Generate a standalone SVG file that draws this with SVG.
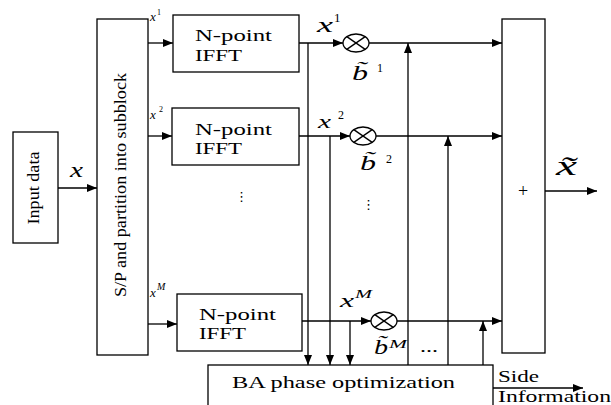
<svg xmlns="http://www.w3.org/2000/svg" width="611" height="405" viewBox="0 0 611 405">
<defs>
<marker id="arr" markerUnits="userSpaceOnUse" markerWidth="11" markerHeight="9" refX="10" refY="4" orient="auto">
<path d="M0,0 L10,4 L0,8 z" fill="#000"/>
</marker>
<style>
.box{fill:#fff;stroke:#000;stroke-width:1.3}
.ln{fill:none;stroke:#000;stroke-width:1.3}
.ar{fill:none;stroke:#000;stroke-width:1.3;marker-end:url(#arr)}
.t{font-family:"Liberation Serif","Times New Roman",serif;font-size:16px;fill:#000}
.m{font-family:"Liberation Serif","Times New Roman",serif;font-style:italic;fill:#000}
.s{font-family:"Liberation Serif","Times New Roman",serif;fill:#000}
.dots{font-family:"DejaVu Sans",sans-serif;font-size:13px;fill:#000}
</style>
</defs>
<rect width="611" height="405" fill="#fff"/>

<g id="connectors">
<line class="ar" x1="58" y1="188" x2="97" y2="188"/>
<line class="ar" x1="148" y1="43" x2="173" y2="43"/>
<line class="ar" x1="148" y1="136" x2="172" y2="136"/>
<line class="ar" x1="148" y1="324" x2="177" y2="324"/>
<line class="ar" x1="299" y1="43" x2="343" y2="43"/>
<line class="ar" x1="369" y1="43" x2="502" y2="43"/>
<line class="ar" x1="299" y1="136" x2="350" y2="136"/>
<line class="ar" x1="376" y1="136" x2="502" y2="136"/>
<line class="ar" x1="302" y1="321" x2="371" y2="321"/>
<line class="ar" x1="397" y1="321" x2="502" y2="321"/>
<line class="ar" x1="308" y1="43" x2="308" y2="365"/>
<line class="ar" x1="330" y1="136" x2="330" y2="365"/>
<line class="ar" x1="350" y1="321" x2="350" y2="365"/>
<line class="ar" x1="408" y1="365" x2="408" y2="43"/>
<line class="ar" x1="448" y1="365" x2="448" y2="136"/>
<line class="ar" x1="483" y1="365" x2="483" y2="321"/>
<line class="ar" x1="545" y1="191" x2="597" y2="191"/>
<line class="ar" x1="493" y1="388" x2="583" y2="388"/>
</g>

<g id="input">
<rect class="box" x="13" y="132" width="45" height="111"/>
<text class="t" transform="translate(39,188) rotate(-90)" text-anchor="middle" textLength="73" lengthAdjust="spacingAndGlyphs">Input data</text>
</g>
<text class="m" x="70" y="177" font-size="22" textLength="13" lengthAdjust="spacingAndGlyphs">x</text>

<g id="sp">
<rect class="box" x="97" y="19" width="51" height="336"/>
<text class="t" transform="translate(126,185) rotate(-90)" text-anchor="middle" textLength="224" lengthAdjust="spacingAndGlyphs">S/P and partition into subblock</text>
</g>
<g id="sublabels">
<text class="m" x="150" y="21" font-size="13">x</text><text class="s" x="157" y="15" font-size="8">1</text>
<text class="m" x="150" y="119" font-size="13">x</text><text class="s" x="159" y="112" font-size="8">2</text>
<text class="m" x="150" y="297" font-size="13">x</text><text class="m" x="157" y="290" font-size="10">M</text>
</g>

<g id="ifft1">
<rect class="box" x="173" y="15" width="126" height="57"/>
<text class="t" x="195" y="41" textLength="77" lengthAdjust="spacingAndGlyphs">N-point</text>
<text class="t" x="195" y="61" textLength="47" lengthAdjust="spacingAndGlyphs">IFFT</text>
</g>
<g id="ifft2">
<rect class="box" x="172" y="108" width="127" height="57"/>
<text class="t" x="195" y="135" textLength="77" lengthAdjust="spacingAndGlyphs">N-point</text>
<text class="t" x="195" y="154" textLength="47" lengthAdjust="spacingAndGlyphs">IFFT</text>
</g>
<text class="dots" x="235" y="201">⋮</text>
<g id="ifft3">
<rect class="box" x="177" y="294" width="125" height="57"/>
<text class="t" x="199" y="320" textLength="77" lengthAdjust="spacingAndGlyphs">N-point</text>
<text class="t" x="199" y="339" textLength="47" lengthAdjust="spacingAndGlyphs">IFFT</text>
</g>

<g id="mult1">
<ellipse class="ln" cx="356" cy="43" rx="13" ry="9"/>
<line class="ln" x1="346.8" y1="36.6" x2="365.2" y2="49.4"/>
<line class="ln" x1="346.8" y1="49.4" x2="365.2" y2="36.6"/>
</g>
<g id="mult2">
<ellipse class="ln" cx="363" cy="136" rx="13" ry="9"/>
<line class="ln" x1="353.8" y1="129.6" x2="372.2" y2="142.4"/>
<line class="ln" x1="353.8" y1="142.4" x2="372.2" y2="129.6"/>
</g>
<g id="multM">
<ellipse class="ln" cx="384" cy="321" rx="13" ry="9"/>
<line class="ln" x1="374.8" y1="314.6" x2="393.2" y2="327.4"/>
<line class="ln" x1="374.8" y1="327.4" x2="393.2" y2="314.6"/>
</g>

<g id="rowlabels">
<text class="m" x="317" y="32" font-size="20" textLength="16" lengthAdjust="spacingAndGlyphs">x</text><text class="s" x="334" y="22" font-size="13">1</text>
<text class="m" x="318" y="128" font-size="18" textLength="13" lengthAdjust="spacingAndGlyphs">x</text><text class="s" x="338" y="119" font-size="12">2</text>
<text class="m" x="340" y="307" font-size="18" textLength="14" lengthAdjust="spacingAndGlyphs">x</text><text class="m" x="355" y="298" font-size="12" textLength="17" lengthAdjust="spacingAndGlyphs">M</text>
<text class="m" x="352" y="80" font-size="22" textLength="16" lengthAdjust="spacingAndGlyphs">b&#x303;</text><text class="s" x="377" y="72" font-size="12">1</text>
<text class="m" x="360" y="170" font-size="22" textLength="16" lengthAdjust="spacingAndGlyphs">b&#x303;</text><text class="s" x="386" y="163" font-size="12">2</text>
<text class="m" x="374" y="354" font-size="20" textLength="14" lengthAdjust="spacingAndGlyphs">b&#x303;</text><text class="m" x="389" y="348" font-size="12" textLength="18" lengthAdjust="spacingAndGlyphs">M</text>
</g>
<text class="dots" x="362" y="209">⋮</text>
<text class="t" x="420" y="352" textLength="18" lengthAdjust="spacingAndGlyphs">...</text>

<g id="sum">
<rect class="box" x="502" y="19" width="43" height="334"/>
<text class="s" x="523" y="197" font-size="18" text-anchor="middle">+</text>
</g>
<text class="m" x="556" y="175" font-size="28" textLength="21" lengthAdjust="spacingAndGlyphs">x&#x303;</text>

<g id="ba">
<rect class="box" x="208" y="365" width="285" height="50"/>
<text class="t" x="232" y="388" textLength="223" lengthAdjust="spacingAndGlyphs">BA phase optimization</text>
</g>
<text class="t" x="498" y="382" textLength="41" lengthAdjust="spacingAndGlyphs">Side</text>
<text class="t" x="498" y="402" textLength="113" lengthAdjust="spacingAndGlyphs">Information</text>
</svg>
